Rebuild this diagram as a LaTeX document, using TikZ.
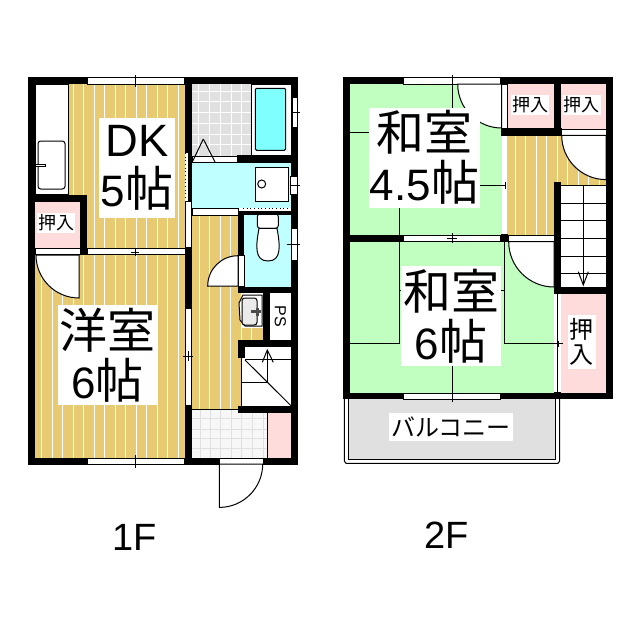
\documentclass[tikz,border=0pt]{standalone}
\usepackage{fontspec}
\setmainfont{Liberation Sans}
\newfontfamily\cjk{Noto Sans CJK JP}
\newcommand\bigcjk[1]{{\fontsize{36}{37.5}\selectfont\cjk #1}}
\definecolor{floorwood}{RGB}{232,202,115}
\definecolor{closetpink}{RGB}{255,220,220}
\definecolor{wetcyan}{RGB}{191,255,255}
\definecolor{tubcyan}{RGB}{128,255,255}
\definecolor{tatami}{RGB}{192,255,192}
\definecolor{tilegrey}{RGB}{224,224,224}
\begin{document}
\begin{tikzpicture}[x=0.75pt,y=-0.75pt,
  thinline/.style={line width=0.75pt},
  stripe/.style={white,line width=0.75pt},
  windowbar/.style={fill=white,draw=black,line width=0.75pt},
  doorleaf/.style={fill=white,draw=black,line width=0.75pt},
  roomtag/.style={fill=white,inner sep=0pt,align=center,font=\fontsize{33}{37.5}\selectfont},
  smalltag/.style={fill=white,inner sep=0pt,align=center,font=\fontsize{13.5}{15}\selectfont\cjk}]
\useasboundingbox (0,0) rectangle (640,640);
\fill[white] (0,0) rectangle ++(640,640);

\fill[floorwood] (68,84) rectangle ++(117,165);
\fill[floorwood] (35,255) rectangle ++(150,203);
\fill[floorwood] (191,215) rectangle ++(50,194);
\fill[floorwood] (238,328) rectangle ++(25,12);
\fill[floorwood] (507,135) rectangle ++(47,100);
\fill[floorwood] (554,135) rectangle ++(52,50);
\foreach \x in {73.2,83.7,...,179} \draw[stripe] (\x,84) -- ++(0,165);
\foreach \x in {41.7,52.2,...,179} \draw[stripe] (\x,255) -- ++(0,203);
\foreach \x in {199.2,209.7,...,232} \draw[stripe] (\x,215) -- ++(0,194);
\foreach \x in {241.2,251.7} \draw[stripe] (\x,328) -- ++(0,12);
\foreach \x in {515.3,525.8,...,600} \draw[stripe] (\x,135) -- ++(0,100);

\fill[closetpink] (35,202) rectangle ++(45,46);
\fill[closetpink] (267,412) rectangle ++(24,46);
\fill[closetpink] (507,84) rectangle ++(47,45);
\fill[closetpink] (561,84) rectangle ++(45,45);
\fill[closetpink] (561,294) rectangle ++(45,100);
\fill[wetcyan] (191,162) rectangle ++(100,46);
\fill[wetcyan] (244,215) rectangle ++(47,72);
\fill[tatami] (349,84) rectangle ++(153,152);
\fill[tatami] (349,241) rectangle ++(205,153);
\fill[tilegrey] (191,84) rectangle ++(60,72);
\fill[tilegrey] (348,399) rectangle ++(208,60);
\fill[white!97!black] (191,409) rectangle ++(76,49);
\foreach \x in {198.3,209.3,220.7,231.7,241.7} \draw[white] (\x,84) -- ++(0,72);
\foreach \y in {91.7,101.7,112.3,123,134,144} \draw[white] (191,\y) -- ++(60,0);
\foreach \x in {200,210,220.7,231.7,241.7,252.7,263} \draw[tilegrey] (\x,409) -- ++(0,49);
\foreach \y in {418.3,429.3,438.3,448.3} \draw[tilegrey] (191,\y) -- ++(76,0);

\draw[thinline,fill=white] (35,84) rectangle (68.5,194);
\draw[thinline,fill=white,rounded corners=2pt] (38,141) rectangle (65,189);
\draw[thinline,fill=white] (35,164) rectangle ++(10,2);
\draw[thinline,fill=white] (251,84) rectangle (291,155);
\draw[thinline,fill=tubcyan,rounded corners=1pt] (255.3,88.3) rectangle (285.7,150.3);
\draw[thinline,fill=white] (255.3,167.3) rectangle (288.7,201.7);
\draw[thinline] (261.7,184) circle (4);
\draw[thinline,fill=white,rounded corners=2pt] (257.3,214) rectangle (278.3,228.3);
\draw[thinline,fill=white] (259,228.3) .. controls (256,245) and (254,261) .. (268,261) .. controls (282,261) and (280,245) .. (277,228.3) -- cycle;
\draw[thinline,fill=white] (243,295) -- (262,295) -- (262,326) -- (245,326) -- (240,320) -- (239,303) -- cycle;
\draw[thinline,fill=black!8,rounded corners=2pt] (242,298) rectangle ++(15,27);
\fill[black!70] (251,310) rectangle ++(10,2.5);
\fill[black!70] (256,307.5) rectangle ++(2.5,8);
\fill[white] (245,346) rectangle (291,406);
\fill[white] (561,185) rectangle (606,287);

\fill (28,77) rectangle ++(270,7);
\fill (28,458) rectangle ++(270,7);
\fill (28,77) rectangle ++(7,388);
\fill (291,77) rectangle ++(7,388);
\fill (185,77) rectangle ++(7,76);
\fill (188,153) rectangle ++(4,48);
\fill (185,247) rectangle ++(7,61);
\fill (185,405) rectangle ++(7,60);
\fill (237,155) rectangle ++(54,8);
\fill (35,195) rectangle ++(52,7);
\fill (80,195) rectangle ++(7,60);
\fill (238,211) rectangle ++(60,4);
\fill (238,211) rectangle ++(6,44);
\fill (238,287) rectangle ++(60,6);
\fill (263,293) rectangle ++(7,47);
\fill (238,340) rectangle ++(60,7);
\fill (238,340) rectangle ++(7,18);
\fill (238,406) rectangle ++(60,7);

\fill (343,77) rectangle ++(270,7);
\fill (343,393) rectangle ++(270,6);
\fill (343,77) rectangle ++(7,322);
\fill (606,77) rectangle ++(7,322);
\fill (501,128) rectangle ++(61,8);
\fill (554,84) rectangle ++(7,52);
\fill (554,182) rectangle ++(7,112);
\fill (554,287) rectangle ++(59,7);
\fill (343,235) rectangle ++(61,7);
\fill (501,234) rectangle ++(7,8);
\fill (554,392) rectangle ++(7,7);

\draw[windowbar] (87.7,77.5) rectangle (184.5,84);
\draw[windowbar] (87.7,458.5) rectangle (184.5,464.5);
\draw[windowbar] (87,248.5) rectangle (185,254.5);
\draw[windowbar] (185.5,201) rectangle (191,247);
\draw[windowbar] (185.5,308) rectangle (191,405);
\draw[windowbar] (192,156) rectangle (237,162);
\draw[windowbar] (192,208.5) rectangle (238,215);
\draw[windowbar] (292,97.7) rectangle (297.5,127.7);
\draw[windowbar] (290.5,176.7) rectangle (297,194.3);
\draw[windowbar] (291,228.3) rectangle (297,260);
\draw[windowbar] (238,255.7) rectangle (244,286);
\draw[windowbar] (219.3,458.5) rectangle (263,464.5);
\draw[windowbar] (35,248.5) rectangle (80,254.5);
\draw[windowbar] (403.7,77.5) rectangle (500.7,84);
\draw[windowbar] (403.7,393.5) rectangle (500.7,399);
\draw[windowbar] (403.7,235.5) rectangle (500.7,241.5);
\draw[windowbar] (501.7,84) rectangle (507.3,128);
\draw[windowbar] (508,235) rectangle (554,241.7);
\draw[windowbar] (561,129) rectangle (606,135.3);
\fill[white] (554.3,294) rectangle (561,392);
\draw[thinline] (557.7,294) -- ++(0,98);
\draw[dotted,thinline] (185.7,153) -- ++(0,48);
\draw[dotted,thinline] (243,208) -- ++(45,0);

\draw[doorleaf] (36,255) arc[start angle=180,end angle=90,radius=43] -- (79,255) -- cycle;
\draw[doorleaf] (207.7,286) arc[start angle=180,end angle=270,radius=30.3] -- (238,286) -- cycle;
\draw[doorleaf] (262.7,464) arc[start angle=0,end angle=90,radius=43.4] -- (219.3,464) -- cycle;
\draw[doorleaf] (457.7,84) arc[start angle=180,end angle=90,radius=44] -- (501.7,84) -- cycle;
\draw[doorleaf] (561.7,135.3) arc[start angle=180,end angle=90,radius=44.3] -- (606,135.3) -- cycle;
\draw[doorleaf] (508.7,241.7) arc[start angle=180,end angle=90,radius=45.3] -- (554,241.7) -- cycle;
\fill (606,135) rectangle ++(7,50);

\draw[thinline] (203.3,139) -- (192.3,162);
\draw[thinline] (203.3,139) -- (215,162);
\draw[thinline] (267.3,412) -- ++(0,46);
\draw[thinline] (191,409) -- ++(47,0);
\draw[thinline] (241.7,358) -- ++(0,48);
\draw[thinline] (245,359.3) -- ++(46,0);
\draw[thinline] (245,360) -- (291,405.7);
\draw[thinline] (241.7,382.7) -- ++(25.6,0);
\draw[thinline] (267.3,382.7) -- ++(0,-32.7);
\draw[thinline] (262.3,362.3) -- (267.3,350) -- (273.3,362.3);
\draw[thinline] (561,185.7) -- ++(45,0);
\foreach \y in {203.3,220.7,238.3,256,273.3} \draw[thinline] (561,\y) -- ++(45,0);
\draw[thinline] (583.3,185.7) -- ++(0,99);
\draw[thinline] (578.3,271.7) -- (583.3,285) -- (588.3,271.7);

\draw[thinline] (135,75) -- ++(0,12);
\draw[thinline] (135,455) -- ++(0,13);
\draw[thinline] (135,248) -- ++(0,8);
\draw[thinline] (131,252) -- ++(8,0);
\draw[thinline] (183,356) -- ++(10,0);
\draw[thinline] (188.3,351) -- ++(0,10);
\draw[thinline] (292,112.7) -- ++(8,0);
\draw[thinline] (290,185) -- ++(10,0);
\draw[thinline] (286.7,244.3) -- ++(13.3,0);

\draw[thinline] (452.3,75) -- ++(0,33);
\draw[thinline] (349,132.3) -- ++(20,0);
\draw[thinline] (480,185.7) -- ++(26,0);
\draw[thinline] (505,182) -- ++(0,7);
\draw[thinline] (399.3,207) -- ++(0,28);
\draw[thinline] (399.3,241) -- ++(0,102.3);
\draw[thinline] (504.3,241) -- ++(0,102.3);
\draw[thinline] (349,343.3) -- ++(51,0);
\draw[thinline] (504,343.3) -- ++(59,0);
\draw[thinline] (558.3,340.7) -- ++(0,6);
\draw[thinline] (399,290) -- ++(105,0);
\draw[thinline] (452.3,365) -- ++(0,36.7);
\draw[thinline] (452,233) -- ++(0,10);
\draw[thinline] (447,238.5) -- ++(10,0);

\draw[thinline] (344.3,399) -- (344.3,461) -- (346,463.3) -- (558,463.3) -- (559.7,461) -- (559.7,399);
\draw[thinline] (348.3,399) -- (348.3,459.3) -- (555.7,459.3) -- (555.7,399);

\node[roomtag,minimum width=57pt,minimum height=75pt] (dk) at (137,168) {\raisebox{-3pt}{\fontsize{34}{37.5}\selectfont DK}\\\raisebox{-3pt}{5\bigcjk{帖}}};
\node[roomtag,minimum width=75pt,minimum height=75pt] (yoshitsu) at (107.5,355) {\bigcjk{洋室}\\6\bigcjk{帖}};
\node[roomtag,minimum width=83pt,minimum height=75pt] (washitsua) at (424.5,157.7) {\bigcjk{和室}\\4.5\bigcjk{帖}};
\node[roomtag,minimum width=75pt,minimum height=75pt] (washitsub) at (451,316) {\bigcjk{和室}\\6\bigcjk{帖}};
\node[smalltag,minimum width=28.5pt,minimum height=15pt] (oshiirea) at (56,223) {押入};
\node[smalltag,minimum width=28.5pt,minimum height=15pt] (oshiireb) at (530,105) {押入};
\node[smalltag,minimum width=28.5pt,minimum height=15pt] (oshiirec) at (581.7,105) {押入};
\node[fill=white,inner sep=0pt,align=center,minimum width=21pt,minimum height=40.5pt,font=\fontsize{18}{18.8}\selectfont\cjk] (oshiired) at (581.7,342) {押\\入};
\node[fill=white,inner sep=0pt,minimum width=93pt,minimum height=21pt,font=\fontsize{18}{20}\selectfont\cjk] (balcony) at (451,427) {バルコニー};
\node[rotate=-90,fill=white,inner sep=1pt,font=\fontsize{12}{14}\selectfont] (ps) at (280.5,316) {PS};
\node[font=\fontsize{28.5}{30}\selectfont,inner sep=0pt] (floorone) at (135,537) {1F};
\node[font=\fontsize{28.5}{30}\selectfont,inner sep=0pt] (floortwo) at (447,535) {2F};
\end{tikzpicture}
\end{document}
